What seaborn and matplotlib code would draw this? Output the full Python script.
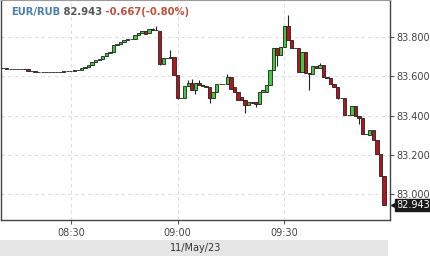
import matplotlib
matplotlib.use("Agg")
import numpy as np
import pandas as pd
import matplotlib.pyplot as plt
import matplotlib.transforms as mtransforms
import seaborn as sns

# ---------------- data (1-minute candles, EUR/RUB, 11/May/23) ----------------
start_time = "08:11"
opens = [83.641, 83.641, 83.640, 83.639, 83.639, 83.638, 83.638, 83.638, 83.629, 83.627,
         83.625, 83.624, 83.623, 83.622, 83.622, 83.622, 83.623, 83.624, 83.626, 83.628,
         83.630, 83.632, 83.634, 83.643, 83.648, 83.656, 83.671, 83.682, 83.690, 83.702,
         83.718, 83.724, 83.758, 83.764, 83.776, 83.786, 83.789, 83.791, 83.811, 83.821,
         83.832, 83.820, 83.840, 83.838, 83.834, 83.663, 83.694, 83.694, 83.697, 83.607,
         83.490, 83.488, 83.551, 83.568, 83.531, 83.566, 83.556, 83.551, 83.546, 83.490,
         83.520, 83.561, 83.561, 83.563, 83.597, 83.546, 83.520, 83.495, 83.480, 83.454,
         83.469, 83.469, 83.459, 83.520, 83.520, 83.556, 83.633, 83.745, 83.709, 83.750,
         83.857, 83.786, 83.745, 83.745, 83.622, 83.724, 83.617, 83.612, 83.653, 83.643,
         83.658, 83.597, 83.592, 83.561, 83.546, 83.490, 83.488, 83.403, 83.403, 83.449,
         83.398, 83.388, 83.306, 83.301, 83.327, 83.276, 83.204, 83.092]
closes = [83.641, 83.640, 83.639, 83.639, 83.638, 83.638, 83.638, 83.629, 83.627, 83.625,
          83.624, 83.623, 83.622, 83.622, 83.622, 83.623, 83.624, 83.626, 83.628, 83.630,
          83.632, 83.634, 83.643, 83.648, 83.656, 83.671, 83.682, 83.690, 83.702, 83.718,
          83.724, 83.758, 83.764, 83.776, 83.786, 83.789, 83.791, 83.811, 83.821, 83.832,
          83.818, 83.840, 83.838, 83.836, 83.663, 83.694, 83.694, 83.697, 83.607, 83.490,
          83.488, 83.551, 83.568, 83.531, 83.566, 83.556, 83.551, 83.546, 83.490, 83.520,
          83.561, 83.561, 83.563, 83.597, 83.536, 83.520, 83.480, 83.480, 83.454, 83.469,
          83.466, 83.459, 83.520, 83.531, 83.556, 83.633, 83.745, 83.709, 83.750, 83.857,
          83.786, 83.745, 83.743, 83.622, 83.724, 83.617, 83.612, 83.653, 83.643, 83.658,
          83.597, 83.592, 83.561, 83.546, 83.490, 83.488, 83.403, 83.401, 83.449, 83.398,
          83.388, 83.306, 83.304, 83.327, 83.276, 83.204, 83.092, 82.943]
highs = [83.641, 83.641, 83.640, 83.639, 83.639, 83.638, 83.638, 83.638, 83.629, 83.627,
         83.625, 83.624, 83.623, 83.622, 83.622, 83.623, 83.624, 83.626, 83.628, 83.630,
         83.632, 83.634, 83.643, 83.648, 83.656, 83.671, 83.682, 83.690, 83.702, 83.718,
         83.724, 83.758, 83.764, 83.776, 83.786, 83.789, 83.791, 83.811, 83.821, 83.832,
         83.832, 83.840, 83.845, 83.855, 83.834, 83.694, 83.694, 83.735, 83.697, 83.607,
         83.490, 83.551, 83.582, 83.585, 83.566, 83.580, 83.556, 83.551, 83.546, 83.520,
         83.561, 83.561, 83.563, 83.612, 83.597, 83.546, 83.520, 83.495, 83.480, 83.469,
         83.469, 83.469, 83.520, 83.531, 83.556, 83.633, 83.745, 83.745, 83.750, 83.857,
         83.913, 83.786, 83.745, 83.745, 83.724, 83.724, 83.617, 83.653, 83.653, 83.668,
         83.658, 83.597, 83.592, 83.561, 83.546, 83.490, 83.488, 83.403, 83.449, 83.449,
         83.398, 83.388, 83.306, 83.327, 83.327, 83.276, 83.204, 83.092]
lows = [83.641, 83.640, 83.639, 83.639, 83.638, 83.638, 83.638, 83.629, 83.627, 83.625,
        83.624, 83.623, 83.622, 83.622, 83.622, 83.622, 83.623, 83.624, 83.626, 83.628,
        83.630, 83.632, 83.634, 83.643, 83.648, 83.656, 83.671, 83.682, 83.690, 83.702,
        83.718, 83.724, 83.758, 83.764, 83.776, 83.786, 83.789, 83.791, 83.811, 83.821,
        83.818, 83.820, 83.838, 83.836, 83.658, 83.663, 83.694, 83.694, 83.607, 83.485,
        83.488, 83.488, 83.551, 83.531, 83.510, 83.556, 83.551, 83.546, 83.465, 83.490,
        83.520, 83.561, 83.561, 83.563, 83.536, 83.520, 83.480, 83.480, 83.413, 83.454,
        83.466, 83.444, 83.459, 83.520, 83.520, 83.556, 83.633, 83.653, 83.709, 83.750,
        83.786, 83.745, 83.743, 83.622, 83.622, 83.617, 83.531, 83.612, 83.643, 83.643,
        83.597, 83.592, 83.561, 83.546, 83.485, 83.488, 83.403, 83.401, 83.403, 83.398,
        83.357, 83.306, 83.304, 83.301, 83.276, 83.204, 83.092, 82.943]

x_tick_labels = ["08:30", "09:00", "09:30"]
y_ticks = [83.0, 83.2, 83.4, 83.6, 83.8]
symbol = "EUR/RUB"
last_price = "82.943"
change_text = "-0.667(-0.80%)"
date_label = "11/May/23"

# ---------------- figure ----------------
sns.set_theme(style="white")
plt.rcParams["font.family"] = ["DejaVu Sans"]

df = pd.DataFrame({"open": opens, "high": highs, "low": lows, "close": closes})
t = pd.date_range("2023-05-11 " + start_time, periods=len(df), freq="1min")
df["minute"] = t.hour * 60 + t.minute

def to_min(s):
    h, m = s.split(":")
    return int(h) * 60 + int(m)

fig = plt.figure(figsize=(4.30, 2.56), dpi=100)
ax = fig.add_axes([1 / 430, 36 / 256, 389 / 430, 220 / 256])

up = df["close"] >= df["open"]
body_colors = np.where(up, "#3ec93e", "#b3141d")

ax.vlines(df["minute"], df["low"], df["high"], color="#222222", lw=0.8, zorder=2)
ax.bar(df["minute"], df["close"] - df["open"], bottom=df["open"], width=0.95,
       color=body_colors, edgecolor="#222222", linewidth=0.6, zorder=3)

ax.set_xlim(490.4, 599.7)
ax.set_ylim(82.867, 83.990)

xt = [to_min(s) for s in x_tick_labels]
ax.set_xticks(xt)
ax.set_xticklabels(x_tick_labels)
ax.set_yticks(y_ticks)
ax.set_yticklabels([f"{v:.3f}" for v in y_ticks])
ax.yaxis.tick_right()

ax.grid(True, color="#dedede", linestyle=(0, (3, 3)), linewidth=0.8)
ax.set_axisbelow(True)

ax.tick_params(axis="both", which="both", length=3, width=0.8, color="#555555",
               labelsize=7, labelcolor="#444444", pad=1.5, direction="out")
ax.tick_params(axis="y", right=True, left=False)
ax.tick_params(axis="x", bottom=True, pad=3)

for side in ["left", "bottom", "right"]:
    ax.spines[side].set_color("#444444")
    ax.spines[side].set_linewidth(1.0)
ax.spines["top"].set_color("#9a9a9a")
ax.spines["top"].set_linewidth(0.8)

# last price tag (box + small pointer)
blend = mtransforms.blended_transform_factory(ax.transAxes, ax.transData)
ax.text(1.016, float(last_price), last_price, transform=blend, ha="left", va="center",
        color="white", fontsize=7,
        bbox=dict(boxstyle="square,pad=0.12", fc="#1a1a1a", ec="#1a1a1a"),
        clip_on=False, zorder=5)
ax.plot([1.009], [float(last_price)], marker="<", markersize=5, color="#1a1a1a",
        transform=blend, clip_on=False, zorder=5)

# title pieces
t1 = ax.text(10 / 389, 1 - 12 / 220, symbol, transform=ax.transAxes, ha="left",
             va="center", fontsize=7.2, fontweight="bold", color="#4d7eaf")
t2 = ax.annotate(" " + last_price, xy=(1, 0), xycoords=t1, va="bottom",
                 fontsize=7.2, fontweight="bold", color="#555555")
t3 = ax.annotate(" " + change_text, xy=(1, 0), xycoords=t2, va="bottom",
                 fontsize=7.2, fontweight="bold", color="#c0503c")

# date band
band = plt.Rectangle((0, 0), 388 / 430, 16 / 256, transform=fig.transFigure,
                     facecolor="#e6e6e6", edgecolor="none", zorder=0)
fig.patches.append(band)
fig.text(196 / 430, 8 / 256, date_label, ha="center", va="center", fontsize=7,
         color="#333333")

fig.savefig("out.png", dpi=100, facecolor="white")
